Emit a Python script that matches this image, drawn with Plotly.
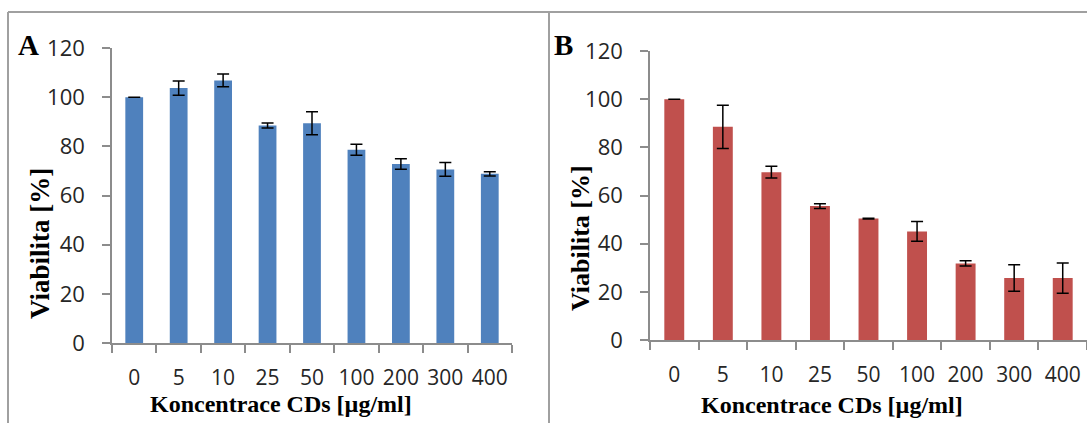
import plotly.graph_objects as go

# ---- data ----
categories = ["0", "5", "10", "25", "50", "100", "200", "300", "400"]
viab_A = [100, 103.7, 106.8, 88.5, 89.4, 78.6, 72.8, 70.6, 68.8]
err_A = [0.0, 2.9, 2.6, 1.0, 4.7, 2.2, 2.1, 2.8, 0.9]
viab_B = [100, 88.5, 69.7, 55.6, 50.4, 45.1, 31.8, 25.7, 25.7]
err_B = [0.0, 9.0, 2.4, 1.0, 0.2, 4.1, 1.1, 5.5, 6.3]
y_ticks = [0, 20, 40, 60, 80, 100, 120]

x_title = "Koncentrace CDs [µg/ml]"
y_title = "Viabilita [%]"

W, H = 1087, 423


def px(x):
    return x / W


def py(y):
    return 1 - y / H


AXIS_GRAY = "#8c8c8c"
TICK_FONT_Y = dict(family="Open Sans", size=22, color="#262626")
TICK_FONT_X = dict(family="Open Sans", size=21, color="#262626")
TITLE_FONT = "Liberation Serif"

fig = go.Figure()

fig.add_trace(go.Bar(
    x=categories, y=viab_A, xaxis="x", yaxis="y",
    marker=dict(color="#4F81BD", line=dict(width=0)), width=0.4,
    error_y=dict(type="data", array=err_A, visible=True, color="black",
                 thickness=1.5, width=6),
    showlegend=False,
))
fig.add_trace(go.Bar(
    x=categories, y=viab_B, xaxis="x2", yaxis="y2",
    marker=dict(color="#C0504D", line=dict(width=0)), width=0.41,
    error_y=dict(type="data", array=err_B, visible=True, color="black",
                 thickness=1.5, width=6),
    showlegend=False,
))

xcommon = dict(type="category", range=[-0.5, 8.5], showgrid=False, zeroline=False,
               showline=True, linecolor=AXIS_GRAY, linewidth=1.5,
               ticks="outside", ticklen=8, tickcolor=AXIS_GRAY, tickwidth=1.5,
               tickson="boundaries", tickfont=TICK_FONT_X, ticklabelstandoff=15,
               tickangle=0, automargin=False, fixedrange=True)
ycommon = dict(range=[0, 120], tickvals=y_ticks, showgrid=False, zeroline=False,
               showline=True, linecolor=AXIS_GRAY, linewidth=1.5,
               ticks="outside", ticklen=8, tickcolor=AXIS_GRAY, tickwidth=1.5,
               tickfont=TICK_FONT_Y, ticklabelstandoff=13,
               automargin=False, fixedrange=True)

fig.update_layout(
    template="none",
    width=W, height=H, autosize=False,
    margin=dict(l=0, r=0, t=0, b=0, pad=0, autoexpand=False),
    paper_bgcolor="white", plot_bgcolor="white",
    bargap=0.6,
    xaxis=dict(domain=[px(112), px(512)], anchor="y", **xcommon),
    yaxis=dict(domain=[py(343), py(48)], anchor="x", **ycommon),
    xaxis2=dict(domain=[px(650), 1.0], anchor="y2", **xcommon),
    yaxis2=dict(domain=[py(340), py(51)], anchor="x2", **ycommon),
)

annotations = [
    dict(text="<b>A</b>", x=px(28), y=py(45), font=dict(family=TITLE_FONT, size=29, color="black")),
    dict(text="<b>B</b>", x=px(563), y=py(45), font=dict(family=TITLE_FONT, size=29, color="black")),
    dict(text="<b>" + x_title + "</b>", x=px(281), y=py(404), font=dict(family=TITLE_FONT, size=24, color="black")),
    dict(text="<b>" + x_title + "</b>", x=px(832), y=py(405), font=dict(family=TITLE_FONT, size=24, color="black")),
    dict(text="<b>" + y_title + "</b>", x=px(40), y=py(244), textangle=-90, font=dict(family=TITLE_FONT, size=27, color="black")),
    dict(text="<b>" + y_title + "</b>", x=px(580), y=py(238), textangle=-90, font=dict(family=TITLE_FONT, size=26, color="black")),
]
for a in annotations:
    a.update(xref="paper", yref="paper", showarrow=False, xanchor="center", yanchor="middle")
fig.update_layout(annotations=annotations)

BORDER = dict(color="#a0a0a0", width=2)
fig.update_layout(shapes=[
    dict(type="line", xref="paper", yref="paper", x0=px(8), x1=1.0, y0=py(12), y1=py(12), line=BORDER),
    dict(type="line", xref="paper", yref="paper", x0=px(8), x1=px(8), y0=py(12), y1=0, line=BORDER),
    dict(type="line", xref="paper", yref="paper", x0=px(549), x1=px(549), y0=py(12), y1=0, line=BORDER),
])

fig.write_html("out.html")
